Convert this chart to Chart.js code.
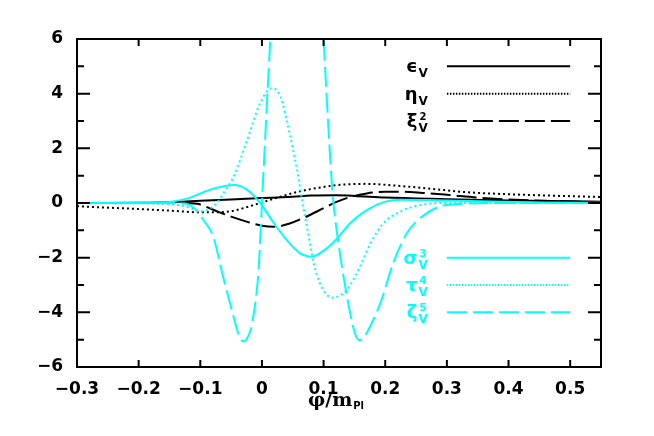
<!DOCTYPE html>
<html>
<head>
<meta charset="utf-8">
<script src="https://cdn.jsdelivr.net/npm/chart.js@4.4.1/dist/chart.umd.min.js"></script>
<style>
  html, body { margin: 0; padding: 0; background: #fff; }
  canvas { display: block; }
</style>
</head>
<body>
<canvas id="chart" width="654" height="436"></canvas>
<script>
// slow-roll parameters vs phi / m_Pl
const xTicks = [-0.3, -0.2, -0.1, 0, 0.1, 0.2, 0.3, 0.4, 0.5];
const yTicks = [-6, -4, -2, 0, 2, 4, 6];
const yMinorTicks = [-5, -3, -1, 1, 3, 5];

const epsX = [-0.3, -0.2, -0.15, -0.13, -0.1, -0.05, 0, 0.05, 0.08, 0.12, 0.15, 0.2, 0.3, 0.4, 0.5, 0.55];
const epsY = [0, 0.01, 0.03, 0.05, 0.08, 0.13, 0.18, 0.23, 0.27, 0.28, 0.26, 0.2, 0.14, 0.09, 0.06, 0.05];

const etaX = [-0.3, -0.25, -0.2, -0.15, -0.1, -0.08, -0.05, -0.02, 0, 0.03, 0.06, 0.09, 0.12, 0.17, 0.22, 0.27, 0.33, 0.4, 0.5, 0.55];
const etaY = [-0.12, -0.17, -0.22, -0.28, -0.34, -0.34, -0.3, -0.12, 0.02, 0.23, 0.42, 0.55, 0.65, 0.7, 0.63, 0.53, 0.4, 0.32, 0.25, 0.22];

const xi2X = [-0.3, -0.2, -0.13, -0.105, -0.08, -0.05, -0.025, 0, 0.02, 0.045, 0.07, 0.1, 0.12, 0.145, 0.17, 0.2, 0.225, 0.26, 0.3, 0.35, 0.4, 0.47, 0.55];
const xi2Y = [0, 0, 0, -0.03, -0.24, -0.5, -0.68, -0.83, -0.87, -0.75, -0.52, -0.19, 0.03, 0.23, 0.35, 0.41, 0.41, 0.37, 0.3, 0.2, 0.13, 0.07, 0.03];

const sig3X = [-0.3, -0.2, -0.15, -0.12, -0.085, -0.06, -0.045, -0.025, -0.003, 0.02, 0.04, 0.062, 0.081, 0.105, 0.122, 0.143, 0.17, 0.2, 0.225, 0.28, 0.35, 0.45, 0.55];
const sig3Y = [0, 0, 0.04, 0.17, 0.48, 0.62, 0.66, 0.5, 0, -0.76, -1.35, -1.84, -1.96, -1.66, -1.3, -0.74, -0.26, 0.05, 0.12, 0.1, 0.06, 0.02, 0.01];

const tau4X = [-0.3, -0.15, -0.12, -0.1, -0.085, -0.073, -0.06, -0.046, -0.024, -0.003, 0.016, 0.03, 0.046, 0.057, 0.067, 0.073, 0.084, 0.094, 0.105, 0.115, 0.125, 0.138, 0.159, 0.176, 0.197, 0.224, 0.257, 0.3, 0.4, 0.55];
const tau4Y = [0, -0.04, -0.15, -0.3, -0.2, 0, 0.45, 0.96, 2.3, 3.65, 4.2, 3.89, 2.43, 1.2, -0.13, -0.87, -2.2, -2.94, -3.35, -3.47, -3.4, -3.18, -2.33, -1.48, -0.74, -0.32, -0.07, 0, 0, 0];

const zeta5X = [-0.3, -0.15, -0.125, -0.115, -0.105, -0.095, -0.079, -0.063, -0.046, -0.038, -0.03, -0.024, -0.016, -0.0055, 0, 0.0135, 0.02, 0.03, 0.04, 0.05, 0.058, 0.07, 0.08, 0.09, 0.1, 0.113, 0.116, 0.124, 0.138, 0.15, 0.157, 0.165, 0.17, 0.192, 0.213, 0.235, 0.267, 0.3, 0.4, 0.55];
const zeta5Y = [0, 0, -0.02, -0.1, -0.3, -0.62, -1.23, -2.7, -4.16, -4.8, -5.07, -4.95, -4.4, -2.45, 0, 5.96, 8.5, 11.9, 14.5, 16.0, 16.4, 15.5, 13.6, 10.6, 6.0, 0.84, 0, -1.46, -3.43, -4.7, -5.01, -4.95, -4.76, -3.67, -2.2, -1.11, -0.38, -0.07, 0, 0];

const CYAN = '#00ffff';
const BLACK = '#000000';
const SOLID = [];
const DOTTED = [2, 3];
const DASHED = [20, 6];

function pts(xs, ys) {
  return xs.map(function(x, i){ return { x: x, y: ys[i] }; });
}

function series(label, xs, ys, color, dash) {
  return {
    label: label,
    data: pts(xs, ys),
    borderColor: color,
    borderWidth: 2,
    borderDash: dash,
    pointRadius: 0,
    showLine: true,
    fill: false,
    cubicInterpolationMode: 'monotone'
  };
}

// legend entries: label parts, colour, dash, row y (data units)
const legendRows = [
  { main: '\u03F5', sup: '',  color: BLACK, dash: SOLID,  y: 5 },
  { main: '\u03B7', sup: '',  color: BLACK, dash: [1.5, 1.5], y: 4 },
  { main: '\u03BE', sup: '2', color: BLACK, dash: DASHED, y: 3 },
  { main: '\u03C3', sup: '3', color: CYAN,  dash: SOLID,  y: -2 },
  { main: '\u03C4', sup: '4', color: CYAN,  dash: [1.5, 1.5], y: -3 },
  { main: '\u03B6', sup: '5', color: CYAN,  dash: DASHED, y: -4 }
];

const framePlugin = {
  id: 'frame',
  afterDatasetsDraw: function(chart) {
    const ctx = chart.ctx;
    const xs = chart.scales.x, ys = chart.scales.y;
    const a = chart.chartArea;

    // legend inside the plot
    ctx.save();
    legendRows.forEach(function(r){
      const py = ys.getPixelForValue(r.y);
      ctx.beginPath();
      ctx.setLineDash(r.dash);
      ctx.lineWidth = 2;
      ctx.strokeStyle = r.color;
      ctx.moveTo(xs.getPixelForValue(0.3), py);
      ctx.lineTo(xs.getPixelForValue(0.5), py);
      ctx.stroke();
      ctx.setLineDash([]);

      const right = xs.getPixelForValue(0.269);
      ctx.fillStyle = r.color;
      ctx.textAlign = 'left';
      ctx.textBaseline = 'alphabetic';
      ctx.font = 'bold 12px "DejaVu Sans"';
      const vw = ctx.measureText('V').width;
      const colX = right - vw;
      ctx.fillText('V', colX, py + 11);
      if (r.sup) {
        ctx.font = 'bold 10px "DejaVu Sans"';
        ctx.fillText(r.sup, colX + 1, py - 1);
      }
      ctx.font = 'bold 18px "DejaVu Sans"';
      ctx.textAlign = 'right';
      ctx.fillText(r.main, colX - 1, py + 6);
    });
    ctx.restore();
  },
  afterDraw: function(chart) {
    const ctx = chart.ctx;
    const xs = chart.scales.x, ys = chart.scales.y;
    const a = chart.chartArea;
    ctx.save();
    ctx.strokeStyle = '#000';
    ctx.lineWidth = 2;
    ctx.setLineDash([]);
    ctx.strokeRect(a.left, a.top, a.right - a.left, a.bottom - a.top);

    ctx.beginPath();
    xTicks.forEach(function(v){
      const px = xs.getPixelForValue(v);
      ctx.moveTo(px, a.bottom); ctx.lineTo(px, a.bottom - 7);
      ctx.moveTo(px, a.top); ctx.lineTo(px, a.top + 7);
    });
    yTicks.forEach(function(v){
      const py = ys.getPixelForValue(v);
      ctx.moveTo(a.left, py); ctx.lineTo(a.left + 13, py);
      ctx.moveTo(a.right, py); ctx.lineTo(a.right - 13, py);
    });
    yMinorTicks.forEach(function(v){
      const py = ys.getPixelForValue(v);
      ctx.moveTo(a.left, py); ctx.lineTo(a.left + 7, py);
      ctx.moveTo(a.right, py); ctx.lineTo(a.right - 7, py);
    });
    ctx.stroke();

    // axis title phi / m_Pl
    const cx = (a.left + a.right) / 2;
    const base = 406;
    ctx.fillStyle = '#000';
    ctx.textBaseline = 'alphabetic';
    ctx.textAlign = 'left';
    ctx.font = 'bold 19px "DejaVu Serif"';
    const mainText = '\u03C6/m';
    const mw = ctx.measureText(mainText).width;
    ctx.font = 'bold 10px "DejaVu Sans"';
    const sw = ctx.measureText('Pl').width;
    const start = cx - (mw + sw + 1) / 2 - 3;
    ctx.font = 'bold 19px "DejaVu Serif"';
    ctx.fillText(mainText, start, base);
    ctx.font = 'bold 10px "DejaVu Sans"';
    ctx.fillText('Pl', start + mw + 1, base + 3);
    ctx.restore();
  }
};

function minus(s) { return String(s).replace('-', '\u2212'); }

new Chart(document.getElementById('chart'), {
  type: 'scatter',
  data: {
    datasets: [
      series('zeta5', zeta5X, zeta5Y, CYAN, DASHED),
      series('tau4', tau4X, tau4Y, CYAN, DOTTED),
      series('sigma3', sig3X, sig3Y, CYAN, SOLID),
      series('xi2', xi2X, xi2Y, BLACK, DASHED),
      series('eta', etaX, etaY, BLACK, DOTTED),
      series('eps', epsX, epsY, BLACK, SOLID)
    ]
  },
  options: {
    responsive: false,
    animation: false,
    devicePixelRatio: 1,
    layout: { padding: { left: 0, right: 53, top: 39, bottom: 0 } },
    plugins: { legend: { display: false }, tooltip: { enabled: false }, title: { display: false } },
    scales: {
      x: {
        type: 'linear',
        min: -0.3,
        max: 0.55,
        grid: { display: false },
        border: { display: false },
        afterBuildTicks: function(s){ s.ticks = xTicks.map(function(v){ return { value: v }; }); },
        afterFit: function(s){ s.height = 69; },
        ticks: {
          autoSkip: false,
          maxRotation: 0,
          padding: 4,
          color: '#000',
          font: { family: 'DejaVu Sans', weight: 'bold', size: 17 },
          callback: function(v){ return v === 0 ? '0' : minus(Number(v).toFixed(1)); }
        }
      },
      y: {
        type: 'linear',
        min: -6,
        max: 6,
        grid: { display: false },
        border: { display: false },
        afterBuildTicks: function(s){ s.ticks = yTicks.map(function(v){ return { value: v }; }); },
        afterFit: function(s){ s.width = 77; },
        ticks: {
          autoSkip: false,
          padding: 6,
          color: '#000',
          font: { family: 'DejaVu Sans', weight: 'bold', size: 17 },
          callback: function(v){ return minus(v); }
        }
      }
    }
  },
  plugins: [framePlugin]
});
</script>
</body>
</html>
